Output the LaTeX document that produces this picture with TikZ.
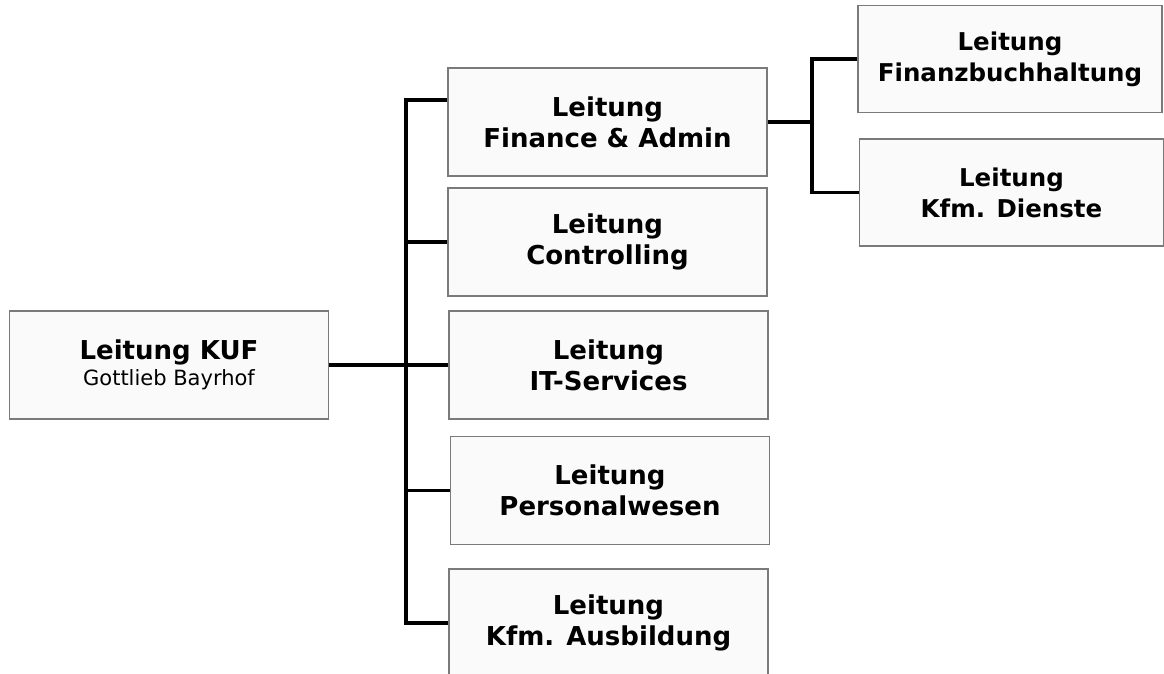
\documentclass[tikz,border=0pt]{standalone}
\usepackage{fontspec}
\setmainfont{DejaVu Sans}
\definecolor{boxfill}{HTML}{FAFAFA}
\definecolor{boxline}{HTML}{7A7A7A}

\begin{document}
\begin{tikzpicture}[x=1pt,y=-1pt,
    orgbox/.style={draw=boxline,line width=1.5pt,fill=boxfill,align=center,inner sep=0pt},
    midbox/.style={orgbox,minimum width=\bw,minimum height=\bh,font=\fontsize{26}{31}\selectfont\bfseries},
    subbox/.style={orgbox,minimum width=304pt,minimum height=107pt,font=\fontsize{24.5}{31}\selectfont\bfseries},
    conn/.style={line width=3.2pt}]
    \def\bw{319pt}
    \def\bh{108pt}
    \useasboundingbox (0,0) rectangle (1164,674);

    \node[orgbox,minimum width=\bw,minimum height=\bh,font=\fontsize{21}{26}\selectfont] (kuf) at (169,365)
        {{\fontsize{26}{26}\selectfont\bfseries Leitung KUF}\\Gottlieb Bayrhof};

    \node[midbox] (fin) at (607.5,122) {Leitung\\Finance \& Admin};
    \node[midbox] (ctrl) at (607.5,242) {Leitung\\Controlling};
    \node[midbox] (it) at (608.5,365) {Leitung\\IT-Services};
    \node[midbox] (pers) at (610,490.5) {Leitung\\Personalwesen};
    \node[midbox] (ausb) at (608.5,623) {Leitung\\Kfm. Ausbildung};

    \node[subbox] (fibu) at (1010,59) {Leitung\\Finanzbuchhaltung};
    \node[subbox] (dienst) at (1011.5,192.5) {Leitung\\Kfm. Dienste};

    \coordinate (lbus) at (406,365);
    \coordinate (rbus) at (812,122);
    \draw[conn] ([yshift=22pt]fin.west) -| (lbus |- ausb.west) -- (ausb.west);
    \foreach \n in {ctrl,it,pers}
        \draw[conn] (lbus |- \n.west) -- (\n.west);
    \draw[conn] (kuf.east) -- (kuf.east -| lbus);

    \draw[conn] (fin.east) -- (fin.east -| rbus);
    \draw[conn] (fibu.west) -| (rbus |- dienst.west) -- (dienst.west);
\end{tikzpicture}
\end{document}
